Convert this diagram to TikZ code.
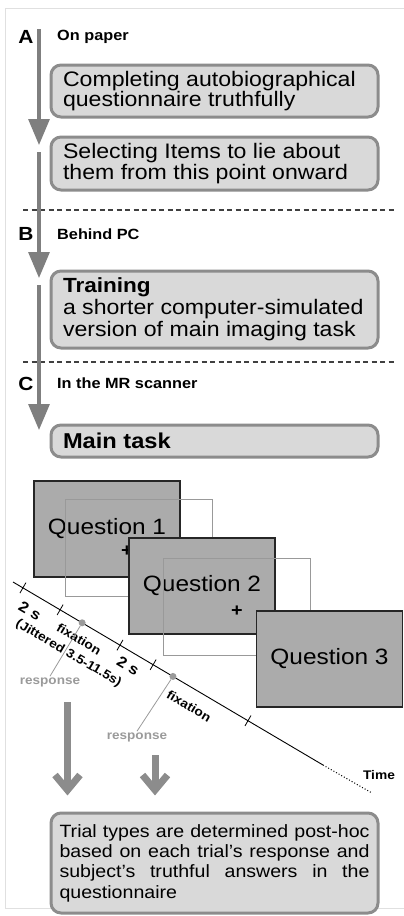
\documentclass[tikz,border=0pt]{standalone}
\usepackage{fontspec}
\setmainfont{Liberation Sans}[FakeStretch=1.1]
\usepackage{tikz}
\usetikzlibrary{arrows.meta,positioning,calc}
\definecolor{boxfill}{HTML}{D9D9D9}
\definecolor{boxline}{HTML}{8C8C8C}
\definecolor{flowgray}{HTML}{7F7F7F}
\definecolor{screengray}{HTML}{ABABAB}
\definecolor{dotgray}{HTML}{9A9A9A}
\tikzset{
    rounded-box/.style = {draw=boxline, fill=boxfill, line width=3pt, rectangle, rounded corners=10pt, inner xsep=12pt, inner ysep=0pt, minimum width=327pt, anchor=north west},
    phase-letter/.style = {font=\bfseries\fontsize{19}{19}\selectfont, inner sep=0pt},
    phase-title/.style = {font=\bfseries\fontsize{14.8}{15}\selectfont, anchor=west, inner sep=0pt},
    phase-arrow/.style = {draw=flowgray, line width=3.2pt, -{Triangle[length=26pt,width=21pt]}},
    phase-sep/.style = {draw=black!75, line width=1.6pt, dash pattern=on 5pt off 3.5pt},
    screen/.style = {draw=black!85, line width=1.6pt, fill=screengray, minimum width=146pt, minimum height=96pt, font=\fontsize{22.2}{22}\selectfont},
    blank-screen/.style = {draw=black!40, line width=1pt, minimum width=147pt, minimum height=97pt},
    cross/.style = {font=\bfseries\fontsize{18}{18}\selectfont, inner sep=0pt},
    time-label/.style = {font=\bfseries\fontsize{12.5}{13}\selectfont, rotate=-30.55, inner sep=0pt},
    resp-dot/.style = {circle, fill=dotgray, inner sep=0pt, minimum size=7pt},
    resp-label/.style = {font=\bfseries\fontsize{12.3}{13}\selectfont, text=dotgray, inner sep=1pt},
    big-arrow/.style = {draw=flowgray!90, line width=7pt, line join=miter},
}

\begin{document}
\begin{tikzpicture}[x=1pt, y=-1pt]
\useasboundingbox (0,0) rectangle (404,916);
\draw[black!12, line width=1pt] (404,8) -- (5,8) -- (5,908) -- (404,908);

% A: on paper
\node[phase-letter] (letA) at (26,37) {A};
\node[phase-title] (titleA) at (57,37) {On paper};
\node[rounded-box, minimum height=52pt] (quest) at (49.5,63.5) {\begin{minipage}{303pt}\fontsize{21}{20.5}\selectfont
    Completing autobiographical\\questionnaire truthfully
\end{minipage}};
\node[rounded-box, minimum height=53pt, below=17pt of quest] (select) {\begin{minipage}{303pt}\fontsize{21}{21}\selectfont
    Selecting Items to lie about\\them from this point onward
\end{minipage}};
\draw[phase-sep] (23,210) -- (395,210);

% B: behind PC
\node[phase-letter] (letB) at (26,234) {B};
\node[phase-title] (titleB) at (57,234) {Behind PC};
\node[rounded-box, minimum height=77pt, below=78pt of select] (train) {\begin{minipage}{303pt}\fontsize{21}{22}\selectfont
    {\bfseries\fontsize{20.5}{22}\selectfont Training}\\a shorter computer-simulated\\version of main imaging task
\end{minipage}};
\draw[phase-sep] (23,362) -- (395,362);

% C: in the scanner
\node[phase-letter] (letC) at (26,384) {C};
\node[phase-title] (titleC) at (57,383) {In the MR scanner};
\node[rounded-box, minimum height=32pt, below=74pt of train] (main) {\begin{minipage}{303pt}\fontsize{21.5}{22}\selectfont
    \bfseries Main task
\end{minipage}};

\coordinate (flowA) at (39,29);
\coordinate (flowA-end) at (39,145);
\coordinate (flowB) at (39,152);
\coordinate (flowB-end) at (39,278);
\coordinate (flowC) at (39,285);
\coordinate (flowC-end) at (39,430);
\draw[phase-arrow] (flowA) -- (flowA-end);
\draw[phase-arrow] (flowB) -- (flowB-end);
\draw[phase-arrow] (flowC) -- (flowC-end);

% screens
\node[screen] (q1) at (107,529) {Question 1};
\node[cross] (cross1) at (127,551) {+};
\node[blank-screen] (fix1) at (139,548) {};
\node[screen] (q2) at (202,586) {Question 2};
\node[cross] (cross2) at (237,611) {+};
\node[blank-screen] (fix2) at (236.5,607) {};
\node[screen] (q3) at (329.5,659) {Question 3};

% time axis
\coordinate (t0) at (13,582);
\coordinate (t1) at (323,765);
\coordinate (t2) at (372,793);
\draw[line width=0.9pt] (t0) -- (t1);
\draw[line width=1pt, dotted] (t1) -- (t2);
\foreach \p in {0.032,0.152,0.345,0.452,0.758}
    \draw[line width=0.8pt] ($(t0)!\p!(t1)$) ++(3,-5.2) -- ++(-6,10.4);
\node[time-label, font=\bfseries\fontsize{15}{15}\selectfont] (dur1) at (30,611) {2 s};
\node[time-label] (fix-lbl1) at (79,639) {fixation};
\node[time-label] (jitter) at (68.5,653.5) {(Jittered 3.5-11.5s)};
\node[time-label, font=\bfseries\fontsize{15}{15}\selectfont] (dur2) at (128,666) {2 s};
\node[time-label] (fix-lbl2) at (189,706) {fixation};
\node[font=\bfseries\fontsize{12.5}{13}\selectfont] (time) at (379,775) {Time};

\node[resp-dot] (dot1) at ($(t0)!0.223!(t1)$) {};
\node[resp-dot] (dot2) at ($(t0)!0.516!(t1)$) {};
\node[resp-label] (resp1) at (50,682) {response};
\node[resp-label] (resp2) at (137,737) {response};
\draw[dotgray, line width=0.8pt] (dot1) -- (resp1.north);
\draw[dotgray, line width=0.8pt] (dot2) -- (resp2.north);

% outcome
\node[rounded-box, minimum height=100pt, inner xsep=8.5pt] (verdict) at (49.5,811.5) {\begin{minipage}{310pt}\fontsize{17.8}{20.3}\selectfont
    Trial types are determined post-hoc\linebreak based on each trial’s response and\linebreak subject’s truthful answers in the\linebreak questionnaire
\end{minipage}};
\coordinate (down1) at (67.5,702);
\coordinate (down2) at (155,755);
\foreach \a in {down1,down2} {
    \coordinate (tip) at ($(\a |- verdict.north)+(0,-21.5)$);
    \draw[big-arrow] (\a) -- (tip);
    \draw[big-arrow] ($(tip)+(-12.5,-15)$) -- (tip) -- ($(tip)+(12.5,-15)$);
}
\end{tikzpicture}
\end{document}
